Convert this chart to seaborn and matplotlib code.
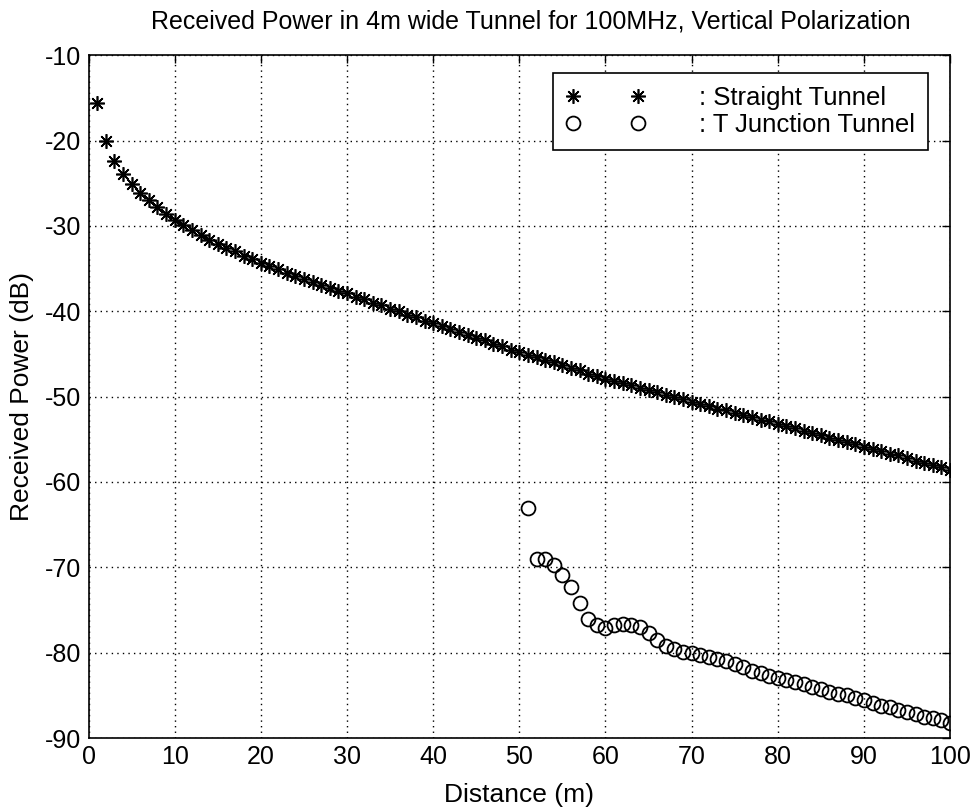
import numpy as np
import pandas as pd
import matplotlib
matplotlib.use("Agg")
import matplotlib.pyplot as plt
from matplotlib.legend_handler import HandlerLine2D
import seaborn as sns

# distance (m) for the straight tunnel, 1..100
straight_x = list(range(1, 101))
straight_db = [
    -15.6, -20.1, -22.4, -23.9, -25.1, -26.1, -27.0, -27.8, -28.6, -29.3,
    -29.9, -30.5, -31.1, -31.6, -32.1, -32.6, -33.0, -33.5, -33.9, -34.3,
    -34.7, -35.1, -35.5, -35.9, -36.2, -36.6, -36.9, -37.3, -37.6, -37.9,
    -38.3, -38.6, -39.0, -39.3, -39.7, -40.0, -40.4, -40.7, -41.1, -41.4,
    -41.7, -42.1, -42.4, -42.8, -43.1, -43.4, -43.8, -44.1, -44.5, -44.8,
    -45.1, -45.4, -45.7, -46.0, -46.3, -46.6, -46.9, -47.3, -47.6, -47.9,
    -48.2, -48.4, -48.7, -49.0, -49.2, -49.5, -49.8, -50.1, -50.3, -50.6,
    -50.9, -51.1, -51.4, -51.6, -51.9, -52.2, -52.4, -52.7, -52.9, -53.2,
    -53.5, -53.7, -54.0, -54.3, -54.5, -54.8, -55.1, -55.3, -55.6, -55.9,
    -56.1, -56.4, -56.7, -56.9, -57.2, -57.5, -57.8, -58.0, -58.3, -58.6,
]

# T junction tunnel, 51..100
tjunc_x = list(range(51, 101))
tjunc_db = [
    -63.1, -69.0, -69.0, -69.7, -70.9, -72.3, -74.2, -76.1, -76.8, -77.1,
    -76.8, -76.6, -76.8, -77.0, -77.7, -78.5, -79.2, -79.6, -79.9, -80.0,
    -80.3, -80.5, -80.7, -81.0, -81.3, -81.7, -82.1, -82.4, -82.7, -83.0,
    -83.2, -83.4, -83.7, -84.0, -84.3, -84.6, -84.8, -85.0, -85.3, -85.6,
    -85.9, -86.2, -86.4, -86.7, -87.0, -87.2, -87.5, -87.7, -87.9, -88.2,
]


class TwoMarkers(HandlerLine2D):
    # matlab-style legend: two markers placed like the original
    def get_xdata(self, legend, xdescent, ydescent, width, height, fontsize):
        xd = np.array([-xdescent + 0.055 * width, -xdescent + 0.5625 * width])
        return xd, xd


sns.set_style("white")
plt.rcParams['font.family'] = ['Liberation Sans', 'DejaVu Sans']
plt.rcParams['axes.unicode_minus'] = False
plt.rcParams['text.color'] = 'black'
plt.rcParams['axes.labelcolor'] = 'black'

fig = plt.figure(figsize=(9.74, 8.11), dpi=100)
ax = fig.add_axes([0.0909, 0.090, 0.8845, 0.842])

sns.lineplot(x=straight_x, y=straight_db, ax=ax, linestyle='none',
             marker=(8, 2, 0), markersize=10.5, markeredgewidth=1.2,
             markeredgecolor='black', color='black', label=': Straight Tunnel')
sns.lineplot(x=tjunc_x, y=tjunc_db, ax=ax, linestyle='none',
             marker='o', markersize=10, markerfacecolor='none',
             markeredgewidth=1.3, markeredgecolor='black', color='black',
             label=': T Junction Tunnel')

ax.set_xlim(0, 100)
ax.set_ylim(-90, -10)
ax.set_xticks(range(0, 101, 10))
ax.set_yticks(range(-90, -9, 10))
ax.grid(True, color='black', linestyle=(0, (1, 3)), linewidth=1)
ax.tick_params(direction='in', length=6, width=1, labelsize=18,
               top=True, right=True, colors='black')
ax.tick_params(axis='y', pad=5)
ax.tick_params(axis='x', pad=5)
for s in ax.spines.values():
    s.set_color('black')
    s.set_linewidth(1.2)

ax.set_title("Received Power in 4m wide Tunnel for 100MHz, Vertical Polarization",
             fontsize=18, pad=19, x=0.513)
ax.set_xlabel("Distance (m)", fontsize=19, labelpad=10)
ax.set_ylabel("Received Power (dB)", fontsize=19, labelpad=8)

leg = ax.legend(loc='upper right', bbox_to_anchor=(0.9745, 0.974),
                borderaxespad=0, numpoints=2, handlelength=4.98,
                fontsize=18.5, fancybox=False, framealpha=1,
                edgecolor='black', handletextpad=0.2, labelspacing=0.12,
                borderpad=0.5, handler_map={plt.Line2D: TwoMarkers()})
leg.get_frame().set_linewidth(1.2)

fig.savefig("out.png", dpi=100)
